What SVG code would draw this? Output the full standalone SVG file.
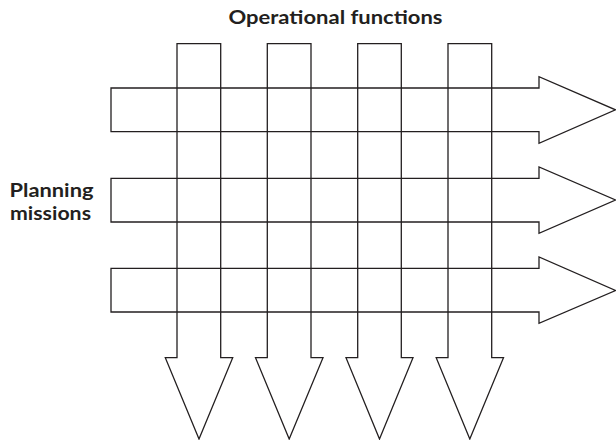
<svg xmlns="http://www.w3.org/2000/svg" width="616" height="440" viewBox="0 0 616 440">
<style>
.ar{fill:none;stroke:#231f20;stroke-width:1.3;stroke-linejoin:miter}
.lb{font-family:"Lato","Open Sans","Liberation Sans",sans-serif;font-weight:bold;font-size:18px;fill:#231f20}
</style>
<rect width="616" height="440" fill="#fff"/>
<g id="operational-label"><text class="lb" x="228.5" y="24" textLength="214" lengthAdjust="spacingAndGlyphs">Operational functions</text></g>
<g id="planning-label"><text class="lb" x="9.5" y="197" textLength="84" lengthAdjust="spacingAndGlyphs">Planning</text><text class="lb" x="10" y="220" textLength="81" lengthAdjust="spacingAndGlyphs">missions</text></g>
<g id="h-arrow-1"><path class="ar" d="M111,88 H539 V76.7 L615.5,109.8 L539,143.3 V131.7 H111 Z"/></g>
<g id="h-arrow-2"><path class="ar" d="M111,178.3 H539 V167 L615.5,200 L539,233.3 V222 H111 Z"/></g>
<g id="h-arrow-3"><path class="ar" d="M111,268.3 H539 V257 L615.5,290.5 L539,323.3 V312 H111 Z"/></g>
<g id="v-arrow-1"><path class="ar" d="M177,43.7 H220.7 V357.7 H232.7 L199,439 L165.3,357.7 H177 Z"/></g>
<g id="v-arrow-2"><path class="ar" d="M267.3,43.7 H311 V357.7 H323 L289.2,439 L255.5,357.7 H267.3 Z"/></g>
<g id="v-arrow-3"><path class="ar" d="M357.7,43.7 H401.3 V357.7 H413 L379.5,439 L346,357.7 H357.7 Z"/></g>
<g id="v-arrow-4"><path class="ar" d="M448,43.7 H491.7 V357.7 H503.5 L469.8,439 L436.2,357.7 H448 Z"/></g>
<g id="connectors"></g>
</svg>
